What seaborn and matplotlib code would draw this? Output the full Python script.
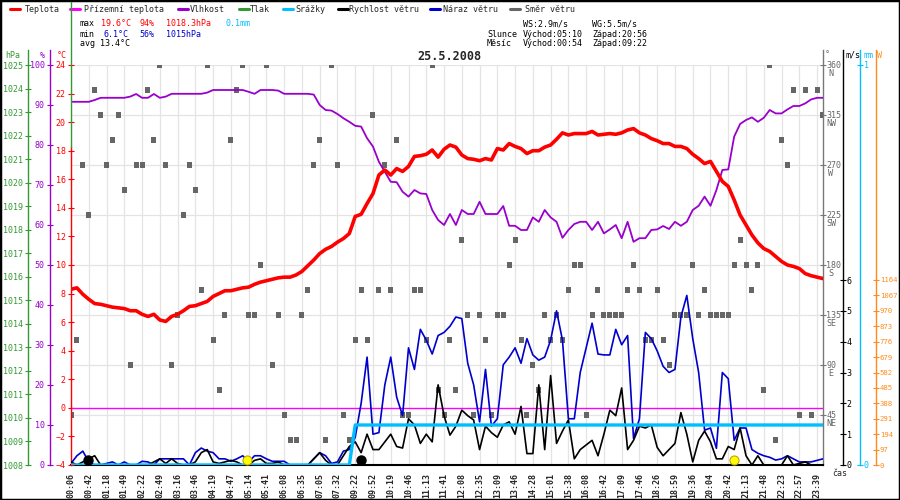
import pandas as pd
import seaborn as sns
import matplotlib.pyplot as plt
import matplotlib.transforms as mtrans
from matplotlib.lines import Line2D
from matplotlib.patches import Rectangle

# ---- data (one sample every ~12 min, 128 samples) ----
temp = [8.3, 8.4, 7.95, 7.6, 7.3, 7.25, 7.15, 7.05, 7.0, 6.95, 6.8, 6.8, 6.55, 6.4, 6.55, 6.15,
        6.05, 6.4, 6.55, 6.8, 7.1, 7.15, 7.3, 7.45, 7.8, 8.0, 8.2, 8.2, 8.3, 8.4, 8.45, 8.65,
        8.8, 8.9, 9.0, 9.1, 9.15, 9.15, 9.3, 9.55, 9.95, 10.35, 10.8, 11.1, 11.3, 11.6, 11.85, 12.2,
        13.4, 13.55, 14.3, 15.0, 16.3, 16.65, 16.3, 16.75, 16.55, 16.9, 17.6, 17.65, 17.75, 18.05, 17.55, 18.1,
        18.4, 18.25, 17.7, 17.45, 17.4, 17.3, 17.45, 17.35, 18.15, 18.05, 18.5, 18.3, 18.15, 17.8, 18.0, 18.0,
        18.25, 18.4, 18.8, 19.25, 19.1, 19.2, 19.2, 19.2, 19.35, 19.1, 19.15, 19.2, 19.15, 19.25, 19.45, 19.55,
        19.25, 19.1, 18.85, 18.7, 18.5, 18.5, 18.3, 18.3, 18.15, 17.75, 17.45, 17.1, 17.25, 16.55, 15.85, 15.5,
        14.55, 13.5, 12.8, 12.1, 11.55, 11.15, 10.95, 10.6, 10.25, 10.0, 9.9, 9.75, 9.4, 9.25, 9.15, 9.05]

humidity = [90.8, 90.8, 90.8, 90.8, 91.25, 91.8, 91.8, 91.8, 91.8, 91.8, 92.1, 92.75, 91.8, 91.8, 92.75, 91.8,
            92.1, 92.8, 92.8, 92.8, 92.8, 92.8, 92.8, 93.1, 93.75, 93.75, 93.75, 93.75, 93.75, 93.75, 93.3, 92.8,
            93.75, 93.75, 93.75, 93.6, 92.8, 92.8, 92.8, 92.8, 92.8, 92.6, 90.0, 88.75, 88.6, 87.75, 86.7, 85.8,
            84.8, 84.6, 81.7, 79.6, 75.8, 73.3, 70.8, 70.7, 68.3, 67.1, 68.75, 67.9, 67.75, 63.75, 61.25, 60.0,
            62.75, 60.0, 63.75, 62.75, 62.75, 65.8, 62.75, 62.75, 62.75, 64.75, 59.8, 59.8, 58.75, 58.75, 61.9, 60.8,
            63.75, 61.9, 60.8, 56.8, 58.75, 60.25, 60.8, 60.8, 58.75, 60.8, 57.9, 58.9, 60.0, 56.7, 60.8, 55.8,
            56.7, 56.7, 58.75, 58.9, 59.75, 59.0, 60.8, 59.8, 60.8, 63.75, 64.8, 67.1, 64.8, 68.75, 73.75, 73.9,
            82.1, 85.25, 86.25, 86.9, 85.8, 86.8, 88.75, 87.9, 87.9, 88.9, 89.75, 89.75, 90.4, 91.4, 91.8, 91.8]

wind_speed = [0.1, 0.0, 0.1, 0.2, 0.3, 0.0, 0.0, 0.0, 0.0, 0.0, 0.0, 0.0, 0.0, 0.0, 0.1, 0.2,
              0.05, 0.2, 0.05, 0.0, 0.0, 0.1, 0.4, 0.5, 0.1, 0.05, 0.1, 0.15, 0.1, 0.0, 0.0, 0.15,
              0.2, 0.05, 0.05, 0.1, 0.0, 0.0, 0.0, 0.0, 0.0, 0.2, 0.4, 0.15, 0.0, 0.0, 0.3, 0.6,
              0.75, 0.4, 1.0, 0.5, 0.5, 0.75, 1.0, 0.6, 0.55, 1.5, 1.3, 0.7, 1.0, 0.75, 2.6, 1.6,
              0.97, 1.26, 1.78, 1.6, 1.46, 0.5, 1.26, 1.05, 0.9, 1.3, 1.4, 1.0, 1.9, 0.37, 0.37, 2.6,
              0.5, 2.9, 0.7, 1.1, 1.46, 0.2, 0.5, 0.65, 0.8, 0.3, 1.0, 1.78, 1.6, 2.5, 0.5, 0.8,
              1.26, 1.2, 1.3, 0.57, 0.3, 0.5, 0.7, 1.7, 1.0, 0.1, 0.8, 1.1, 0.75, 0.2, 0.2, 0.6,
              0.5, 1.2, 0.3, 0.0, 0.3, 0.0, 0.0, 0.0, 0.0, 0.3, 0.0, 0.05, 0.1, 0.0, 0.0, 0.0]

wind_gust = [0.05, 0.3, 0.45, 0.1, 0.0, 0.0, 0.05, 0.1, 0.0, 0.1, 0.0, 0.0, 0.12, 0.1, 0.0, 0.2,
             0.2, 0.2, 0.2, 0.2, 0.0, 0.4, 0.55, 0.45, 0.4, 0.2, 0.2, 0.12, 0.2, 0.3, 0.1, 0.3,
             0.3, 0.2, 0.12, 0.12, 0.12, 0.0, 0.0, 0.0, 0.0, 0.2, 0.4, 0.3, 0.05, 0.1, 0.45, 0.5,
             0.9, 2.0, 3.5, 1.0, 1.05, 2.6, 3.5, 2.2, 1.6, 3.8, 3.1, 4.4, 4.05, 3.6, 4.2, 4.3,
             4.5, 4.8, 4.75, 3.3, 2.6, 1.4, 3.1, 1.26, 1.5, 3.25, 3.5, 3.8, 3.3, 4.1, 3.57, 3.4,
             3.5, 4.05, 5.0, 4.05, 1.5, 1.5, 3.0, 3.8, 4.6, 3.6, 3.57, 3.57, 4.4, 3.9, 4.2, 0.86,
             1.5, 4.3, 4.1, 3.7, 3.2, 3.0, 3.1, 4.8, 5.5, 4.1, 3.0, 1.13, 1.2, 0.54, 3.0, 2.8,
             0.8, 1.2, 1.2, 0.5, 0.38, 0.3, 0.25, 0.16, 0.2, 0.3, 0.2, 0.1, 0.1, 0.1, 0.15, 0.2]

wind_dir = [45, 112.5, 270, 225, 337.5, 315, 270, 292.5, 315, 247.5, 90, 270, 270, 337.5, 292.5, 360,
            270, 90, 135, 225, 270, 247.5, 157.5, 360, 112.5, 67.5, 135, 292.5, 337.5, 360, 135, 135,
            180, 360, 90, 135, 45, 22.5, 22.5, 135, 157.5, 270, 292.5, 22.5, 360, 270, 45, 22.5,
            112.5, 157.5, 112.5, 315, 157.5, 270, 157.5, 292.5, 45, 45, 157.5, 157.5, 112.5, 360, 67.5, 45,
            112.5, 67.5, 202.5, 135, 45, 135, 112.5, 45, 135, 135, 180, 202.5, 112.5, 45, 90, 67.5,
            135, 112.5, 135, 112.5, 157.5, 180, 180, 45, 135, 157.5, 135, 135, 135, 135, 157.5, 180,
            157.5, 112.5, 112.5, 157.5, 112.5, 90, 135, 135, 135, 180, 135, 157.5, 135, 135, 135, 135,
            180, 202.5, 180, 157.5, 180, 67.5, 360, 22.5, 292.5, 270, 337.5, 45, 337.5, 45, 337.5, 315]

# ground temperature sensor reads 0 all day, rain total steps to 0.1 mm at 09:22
ground_temp = [0.0] * 128
rain_total = [0.0] * 48 + [0.1] * 80

time_labels = ["00:06", "00:42", "01:18", "01:49", "02:22", "02:49", "03:16", "03:46", "04:19",
               "04:47", "05:14", "05:41", "06:08", "06:35", "07:05", "07:32", "09:22", "09:52",
               "10:19", "10:46", "11:13", "11:41", "12:08", "12:35", "13:09", "13:46", "14:28",
               "15:01", "15:38", "16:08", "16:42", "17:09", "17:46", "18:26", "18:59", "19:36",
               "20:04", "20:42", "21:13", "21:48", "22:23", "22:57", "23:39"]

sun_events = [29.7, 112.0]    # východ / západ slunce
moon_events = [2.8, 48.9]     # východ / západ měsíce

df = pd.DataFrame({"i": range(len(temp)), "temp": temp, "hum": humidity, "ws": wind_speed,
                   "wg": wind_gust, "dir": wind_dir, "ground": ground_temp, "rain": rain_total})

# ---- colours ----
c_temp, c_ground, c_hum, c_press = "#ff0000", "#ff00ff", "#9900cc", "#339933"
c_rain, c_ws, c_wg, c_dir, c_sun = "#00bfff", "#000000", "#0000cc", "#666666", "#ff8c1a"

sns.set_style("white")
plt.rcParams['font.family'] = ['DejaVu Sans Mono', 'DejaVu Sans']
plt.rcParams['font.size'] = 6

W, H = 900, 500
def fx(px):
    return px / W
def fy(py):
    return 1 - py / H

L, R, T, B = 71, 823, 65, 465
span = R - L
fig = plt.figure(figsize=(9, 5), dpi=100)
ax_d = fig.add_axes([fx(L), fy(B), span / W, (B - T) / H])


def side_axis(ax, side, px, color, lim, ticks, labels=None, top_val=None, pad=1.8, size=6):
    for s in ax.spines.values():
        s.set_visible(False)
    sp = ax.spines[side]
    sp.set_visible(True)
    sp.set_color(color)
    sp.set_linewidth(1.0)
    sp.set_position(('axes', (px - L) / span))
    ax.set_ylim(*lim)
    if top_val is not None:
        sp.set_bounds(lim[0], top_val)
    if side == 'left':
        ax.yaxis.tick_left()
    else:
        ax.yaxis.tick_right()
    ax.set_yticks(ticks)
    if labels is not None:
        ax.set_yticklabels(labels)
    ax.tick_params(axis='y', direction='inout', length=4, width=0.8, color=color,
                   labelcolor=color, labelsize=size, pad=pad)
    ax.grid(False)
    ax.set_ylabel("")


# direction (base axis, holds the grid)
sns.scatterplot(data=df, x="i", y="dir", ax=ax_d, marker='s', s=13, color=c_dir,
                edgecolor='none', legend=False, zorder=3)
ax_d.set_xlim(0, 127)
ax_d.set_xticks(range(0, 127, 3))
ax_d.set_xticklabels(time_labels, rotation=90, fontweight='bold', fontsize=6)
ax_d.tick_params(axis='x', direction='out', length=3, width=0.8, color='black', pad=2.5)
ax_d.set_axisbelow(True)
ax_d.set_xlabel("")
for deg, name in zip(range(45, 361, 45), ["NE", "E", "SE", "S", "SW", "W", "NW", "N"]):
    ax_d.annotate(name, xy=(1, deg), xycoords=('axes fraction', 'data'), xytext=(8, -9),
                  textcoords='offset pixels', ha='center', va='center', color=c_dir, fontsize=6)

# humidity
ax_h = ax_d.twinx()
sns.lineplot(data=df, x="i", y="hum", ax=ax_h, color=c_hum, linewidth=1.3, estimator=None)
side_axis(ax_h, 'left', 50, c_hum, (0, 100), range(0, 101, 10), top_val=103.75)

# pressure (axis only)
ax_p = ax_d.twinx()
side_axis(ax_p, 'left', 28, c_press, (1008, 1025), range(1008, 1026), top_val=1025.64)

# temperature + ground temperature
ax_t = ax_d.twinx()
sns.lineplot(data=df, x="i", y="ground", ax=ax_t, color=c_ground, linewidth=1.0, estimator=None)
sns.lineplot(data=df, x="i", y="temp", ax=ax_t, color=c_temp, linewidth=2.6, estimator=None)
side_axis(ax_t, 'left', L, c_temp, (-4, 24), range(-4, 25, 2), top_val=18.26)

# wind
ax_w = ax_d.twinx()
sns.lineplot(data=df, x="i", y="wg", ax=ax_w, color=c_wg, linewidth=1.2, estimator=None)
sns.lineplot(data=df, x="i", y="ws", ax=ax_w, color=c_ws, linewidth=1.2, estimator=None)
side_axis(ax_w, 'right', 843, c_ws, (0, 400 / 30.83), range(0, 7), top_val=13.46, pad=0.8)

# rain
ax_r = ax_d.twinx()
sns.lineplot(data=df, x="i", y="rain", ax=ax_r, color=c_rain, linewidth=2.4, estimator=None)
side_axis(ax_r, 'right', 860, c_rain, (0, 1), [0, 1], top_val=1.0375, pad=0.8)

# solar radiation (axis only)
ax_s = ax_d.twinx()
side_axis(ax_s, 'right', 876, c_sun, (0, 400 * 1164 / 185), range(0, 1165, 97),
          top_val=415 * 1164 / 185, pad=0.8, size=5.2)

for a in (ax_h, ax_p, ax_t, ax_w, ax_r, ax_s):
    a.set_xlim(0, 127)
    a.set_xlabel("")

# twinx() pushes the host ticks to the left, so set up the direction axis last
side_axis(ax_d, 'right', R, "#777777", (0, 360), range(45, 361, 45),
          [str(v) for v in range(45, 361, 45)], top_val=373.5, pad=0.3)
ax_d.tick_params(axis='y', labelcolor=c_dir)
ax_d.grid(True, color='#e4e4e4', linewidth=0.9)
ax_d.spines['bottom'].set_visible(True)
ax_d.spines['bottom'].set_color('black')
ax_d.spines['bottom'].set_linewidth(1.5)

# sun and moon events along the bottom
ev = mtrans.blended_transform_factory(ax_s.transData, ax_s.transAxes)
ax_s.plot(sun_events, [0.0125] * len(sun_events), 'o', transform=ev, ms=6.5,
          mfc='#ffff00', mec='#c8a000', mew=0.8, clip_on=False, zorder=10)
ax_s.plot(moon_events, [0.0125] * len(moon_events), 'o', transform=ev, ms=6.5,
          mfc='black', mec='black', clip_on=False, zorder=10)

# unit labels above the axes
units = [(13, "hPa", c_press), (42.5, "%", c_hum), (61.5, "°C", c_temp), (827, "°", c_dir),
         (853, "m/s", c_ws), (868, "mm", c_rain), (879.5, "W", c_sun)]
for px, txt, col in units:
    fig.text(fx(px), fy(55), txt, color=col, fontsize=6, ha='center', va='center')
fig.text(fx(840), fy(474), "čas", fontsize=6, ha='center', va='center')

# legend row
legend_items = [(10, 25, c_temp, "Teplota"), (70, 84, c_ground, "Přízemní teplota"),
                (178, 190, c_hum, "Vlhkost"), (239, 250, c_press, "Tlak"),
                (283, 295, c_rain, "Srážky"), (338, 349, c_ws, "Rychlost větru"),
                (430, 443, c_wg, "Náraz větru"), (510, 525, c_dir, "Směr větru")]
for x0, xt, col, txt in legend_items:
    fig.add_artist(Line2D([fx(x0), fx(x0 + 10)], [fy(9), fy(9)], color=col, lw=2.2))
    fig.text(fx(xt), fy(9), txt, fontsize=6, ha='left', va='center')

# daily statistics
stats = [(80, 24, "max", "black"), (101, 24, "19.6°C", c_temp), (139, 24, "94%", c_temp),
         (166, 24, "1018.3hPa", c_temp), (226, 24, "0.1mm", c_rain),
         (80, 34, "min", "black"), (104, 34, "6.1°C", c_wg), (139, 34, "56%", c_wg),
         (166, 34, "1015hPa", c_wg), (80, 44, "avg 13.4°C", "black"),
         (523, 24, "WS:2.9m/s", "black"), (592, 24, "WG:5.5m/s", "black"),
         (487, 34, "Slunce", "black"), (523, 34, "Východ:05:10", "black"), (592, 34, "Západ:20:56", "black"),
         (487, 44, "Měsíc", "black"), (523, 44, "Východ:00:54", "black"), (592, 44, "Západ:09:22", "black")]
for px, py, txt, col in stats:
    fig.text(fx(px), fy(py), txt, color=col, fontsize=6, ha='left', va='center')

fig.text(fx(449), fy(57), "25.5.2008", fontsize=8.5, fontweight='bold', ha='center', va='center')

# frame and the divider line on the left
fig.add_artist(Line2D([fx(L), fx(L)], [fy(2), fy(147)], color=c_press, lw=1.0))
fig.add_artist(Rectangle((0, 0), 1, 1, transform=fig.transFigure, fill=False, ec='black', lw=2.5))

fig.savefig("out.png", dpi=100)
